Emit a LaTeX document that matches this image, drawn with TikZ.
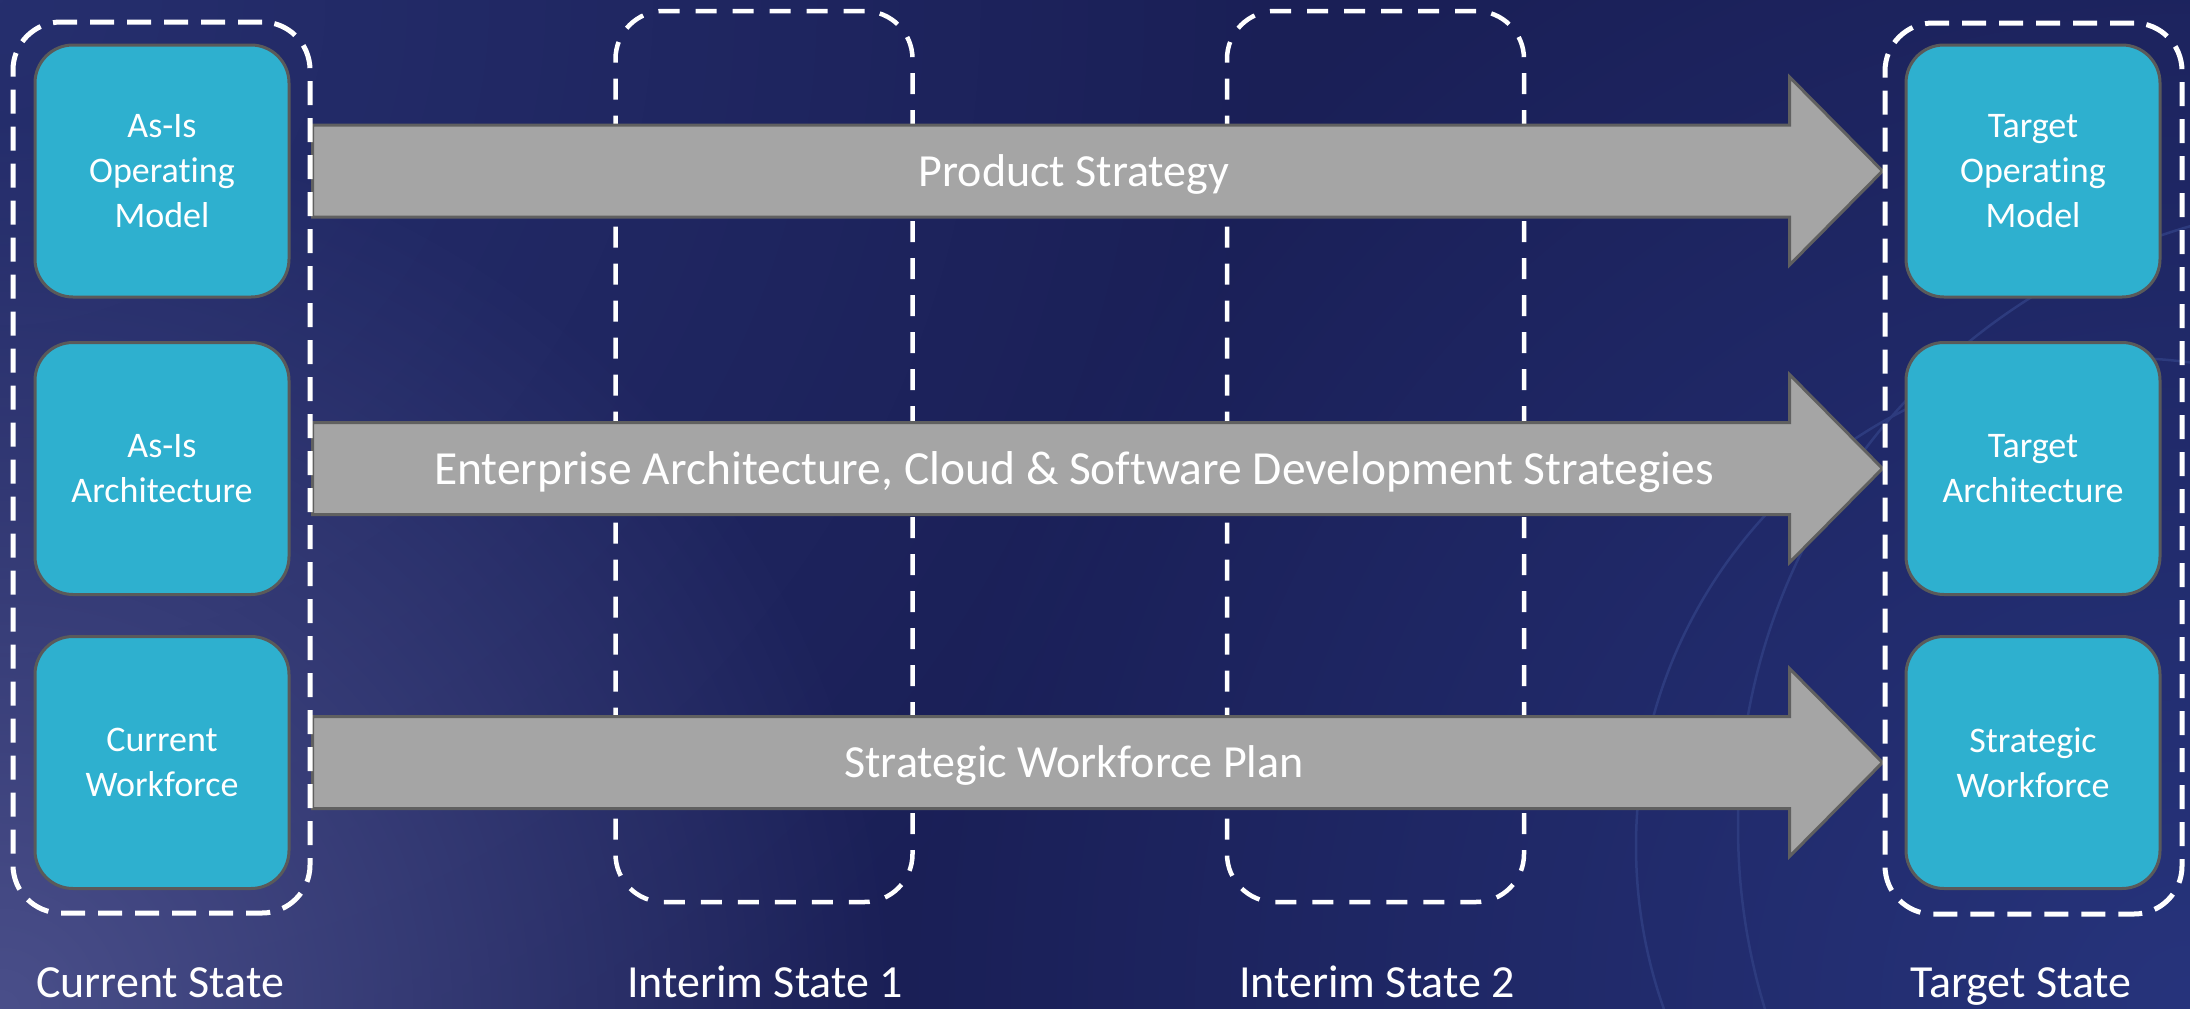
\documentclass[tikz,border=0pt]{standalone}
\usepackage{fontspec}
\setmainfont{Carlito}[Ligatures={NoCommon}]
\usetikzlibrary{calc,fadings}
\definecolor{bgd}{HTML}{1A1F56}
\definecolor{bgl}{HTML}{4A4F8A}
\definecolor{bgt}{HTML}{262F6E}
\definecolor{bgr}{HTML}{27347C}
\definecolor{ringc}{HTML}{2D3B7E}
\definecolor{boxblue}{HTML}{2EB0CF}
\definecolor{boxedge}{HTML}{5A5A5A}
\definecolor{arrowfill}{HTML}{A5A5A5}
\definecolor{arrowedge}{HTML}{606060}
\tikzfading[name=glowfade, inner color=transparent!0, outer color=transparent!100]
\pgfdeclarelayer{bg}
\pgfdeclarelayer{mid}
\pgfsetlayers{bg,mid,main}
\begin{document}
\begin{tikzpicture}[x=1pt,y=-1pt,
  stagebox/.style={draw=white, line width=5pt, dash pattern=on 24pt off 13pt,
    rounded corners=48pt, minimum width=297pt, minimum height=891pt, inner sep=0pt},
  interimbox/.style={stagebox, line width=4.5pt, dash pattern=on 21pt off 16pt},
  bluebox/.style={fill=boxblue, draw=boxedge, line width=3pt, rounded corners=38pt,
    minimum width=254pt, minimum height=252pt, inner sep=0pt, align=center,
    text=white, font=\fontsize{36}{45}\selectfont},
  bigarrow/.style={fill=arrowfill, draw=arrowedge, line width=3pt, line join=miter},
  arrowlabel/.style={text=white, font=\fontsize{46}{50}\selectfont, anchor=base, inner sep=0pt},
  statelabel/.style={text=white, font=\fontsize{46}{50}\selectfont, anchor=base, inner sep=0pt},
  ringline/.style={draw=ringc, line width=2.5pt}
]
\useasboundingbox (0,0) rectangle (2190,1009);

\begin{pgfonlayer}{bg}
  \fill[bgd] (0,0) rectangle (2190,1009);
  \begin{scope}
    \clip (0,0) rectangle (2190,1009);
    \fill[bgt, path fading=glowfade] (0,0) circle (1300);
    \fill[bgr, path fading=glowfade] (2190,1009) circle (1300);
    \fill[bgl, path fading=glowfade] (0,1009) circle (900);
    \draw[ringline] (2124,846) circle (488);
    \draw[ringline] (2363,827) circle (625);
  \end{scope}
  % interim stages
  \node[interimbox] (int1) at (764,456.5) {};
  \node[interimbox] (int2) at (1375.5,456.5) {};
\end{pgfonlayer}

% current and target stages
\node[stagebox] (cur) at (161.5,467.5) {};
\node[stagebox] (tgt) at (2033.5,468.5) {};

% boxes
\node[bluebox] (asop) at (162,171) {As-Is\\Operating\\Model};
\node[bluebox] (asarch) at (162,468.5) {As-Is\\Architecture};
\node[bluebox] (curwf) at (162,762.5) {Current\\Workforce};
\node[bluebox] (tgop) at (2033,171) {Target\\Operating\\Model};
\node[bluebox] (tgarch) at (2033,468.5) {Target\\Architecture};
\node[bluebox] (tgwf) at (2033,762.5) {Strategic\\Workforce};

% arrows
\begin{pgfonlayer}{mid}
  \foreach \s/\e in {asop/tgop, asarch/tgarch, curwf/tgwf}{
    \coordinate (s) at (cur.east |- \s);
    \coordinate (e) at (tgt.west |- \e);
    \draw[bigarrow] ($(s)+(0,-46)$) -- ($(e)+(-93,-46)$) -- ($(e)+(-93,-94)$) -- (e)
      -- ($(e)+(-93,94)$) -- ($(e)+(-93,46)$) -- ($(s)+(0,46)$) -- cycle;
  }
\end{pgfonlayer}

\node[arrowlabel] (l1) at (1074,186) {Product Strategy};
\node[arrowlabel, font=\fontsize{47.5}{50}\selectfont] (l2) at (1074,484) {Enterprise Architecture, Cloud \& Software Development Strategies};
\node[arrowlabel] (l3) at (1074,777) {Strategic Workforce Plan};

% stage labels
\node[statelabel] (sl1) at (160,997) {Current State};
\node[statelabel] (sl2) at (765,997) {Interim State 1};
\node[statelabel] (sl3) at (1377,997) {Interim State 2};
\node[statelabel] (sl4) at (2021,997) {Target State};
\end{tikzpicture}
\end{document}
